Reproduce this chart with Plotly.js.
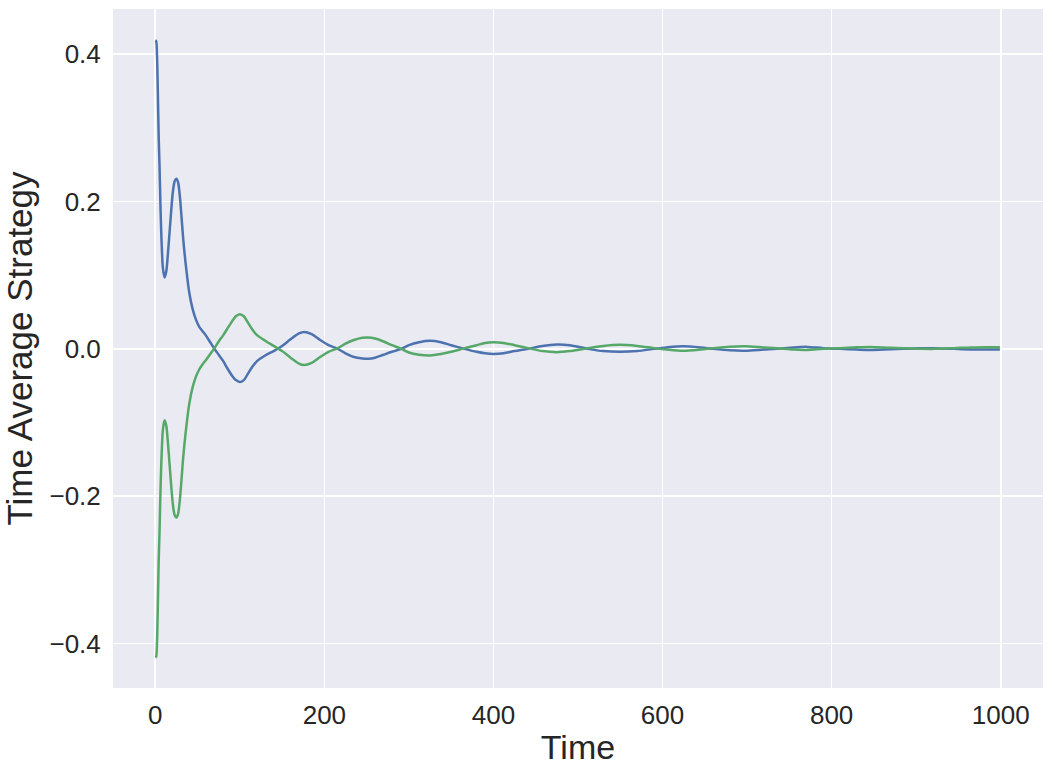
<!DOCTYPE html>
<html>
<head>
<meta charset="utf-8">
<script src="https://cdn.plot.ly/plotly-3.0.1.min.js"></script>
<style>
  html, body { margin: 0; padding: 0; background: #fff; }
  #chart { width: 1053px; height: 773px; }
</style>
</head>
<body>
<div id="chart"></div>
<script>
// time steps (denser where the curves bend)
const time = [
  0, 1, 2, 3, 4, 5, 6, 7, 8, 9, 11, 13, 15, 17, 19, 21, 23, 25, 27, 29, 31, 33, 36,
  40, 44, 48, 52, 56, 60, 65, 70, 75, 80, 85, 90, 95, 100, 105, 110, 115, 120, 130,
  140, 150, 160, 170, 176, 185, 195, 205, 216, 225, 235, 245, 252, 260, 270, 280,
  291, 300, 312, 325, 338, 350, 366, 380, 390, 400, 412, 425, 441, 458, 475, 490,
  512, 530, 549, 570, 590, 605, 624, 645, 660, 680, 698, 720, 735, 755, 771, 790,
  810, 830, 846, 870, 885, 905, 921, 945, 965, 985, 999
];

// first player's time average strategy
const playerOne = [
  0.419, 0.418, 0.40, 0.35, 0.29, 0.25, 0.20, 0.16, 0.13, 0.11, 0.097, 0.105, 0.13,
  0.16, 0.19, 0.215, 0.228, 0.231, 0.226, 0.208, 0.18, 0.15, 0.115,
  0.078, 0.055, 0.040, 0.030, 0.024, 0.018, 0.009, 0.000, -0.008, -0.016, -0.026,
  -0.035, -0.042, -0.045, -0.042, -0.033, -0.024, -0.017, -0.009,
  -0.003, 0.004, 0.013, 0.021, 0.023, 0.020, 0.012, 0.005, 0.000, -0.006, -0.011,
  -0.013, -0.0135, -0.012, -0.008, -0.004,
  0.000, 0.005, 0.009, 0.011, 0.009, 0.005, 0.000, -0.004, -0.006, -0.007, -0.006,
  -0.003, 0.000, 0.004, 0.006, 0.005,
  0.000, -0.003, -0.004, -0.003, 0.000, 0.002, 0.0035, 0.002, 0.000, -0.002,
  -0.0025, -0.001, 0.000, 0.002, 0.0027, 0.001,
  0.000, -0.001, -0.0015, -0.0005, 0.000, 0.0008, 0.0009, 0.000, -0.0007, -0.001, -0.001
];

// second player's time average strategy
const playerTwo = [
  -0.419, -0.418, -0.40, -0.35, -0.29, -0.25, -0.20, -0.16, -0.13, -0.11, -0.097,
  -0.104, -0.128, -0.158, -0.188, -0.213, -0.226, -0.229, -0.224, -0.206, -0.178,
  -0.148, -0.113,
  -0.076, -0.053, -0.038, -0.028, -0.021, -0.015, -0.007, 0.001, 0.010, 0.018, 0.027,
  0.036, 0.044, 0.047, 0.044, 0.035, 0.026, 0.019, 0.011,
  0.004, -0.003, -0.012, -0.020, -0.022, -0.019, -0.011, -0.004, 0.001, 0.007, 0.012,
  0.015, 0.0155, 0.014, 0.010, 0.005,
  0.000, -0.005, -0.008, -0.009, -0.007, -0.004, 0.001, 0.005, 0.008, 0.009, 0.008,
  0.005, 0.001, -0.003, -0.0045, -0.003,
  0.001, 0.004, 0.0055, 0.004, 0.001, -0.001, -0.0027, -0.001, 0.001, 0.003, 0.0036,
  0.002, 0.001, -0.001, -0.0014, 0.000,
  0.001, 0.0022, 0.0027, 0.0015, 0.001, 0.0002, 0.000, 0.001, 0.002, 0.0023, 0.0023
];

const xTicks = [0, 200, 400, 600, 800, 1000];
const yTicks = [-0.4, -0.2, 0.0, 0.2, 0.4];
const yTickText = ['\u22120.4', '\u22120.2', '0.0', '0.2', '0.4'];

const font = 'Liberation Sans, Arial, sans-serif';
const ink = '#262626';

const traces = [
  {
    x: time, y: playerOne, type: 'scatter', mode: 'lines',
    line: { color: '#4C72B0', width: 2.5, shape: 'spline', smoothing: 0.8 },
    showlegend: false
  },
  {
    x: time, y: playerTwo, type: 'scatter', mode: 'lines',
    line: { color: '#55A868', width: 2.5, shape: 'spline', smoothing: 0.8 },
    showlegend: false
  }
];

const layout = {
  width: 1053, height: 773,
  margin: { l: 113, r: 10, t: 9, b: 85 },
  paper_bgcolor: '#ffffff',
  plot_bgcolor: '#EAEAF2',
  font: { family: font, color: ink, size: 26 },
  xaxis: {
    range: [-50, 1050],
    tickvals: xTicks,
    ticktext: xTicks.map(String),
    ticks: 'outside', ticklen: 4, tickcolor: 'rgba(0,0,0,0)',
    showgrid: true, gridcolor: '#ffffff', gridwidth: 1.6,
    zeroline: false, showline: false,
    tickfont: { family: font, size: 26, color: ink },
    title: { text: 'Time', font: { family: font, size: 34, color: ink }, standoff: 5 }
  },
  yaxis: {
    range: [-0.4605, 0.4615],
    tickvals: yTicks,
    ticktext: yTickText,
    ticks: 'outside', ticklen: 6, tickcolor: 'rgba(0,0,0,0)',
    showgrid: true, gridcolor: '#ffffff', gridwidth: 1.6,
    zeroline: false, showline: false,
    tickfont: { family: font, size: 26, color: ink },
    title: { text: 'Time Average Strategy', font: { family: font, size: 35, color: ink }, standoff: 12 }
  }
};

Plotly.newPlot('chart', traces, layout, { displayModeBar: false, staticPlot: true });
</script>
</body>
</html>
